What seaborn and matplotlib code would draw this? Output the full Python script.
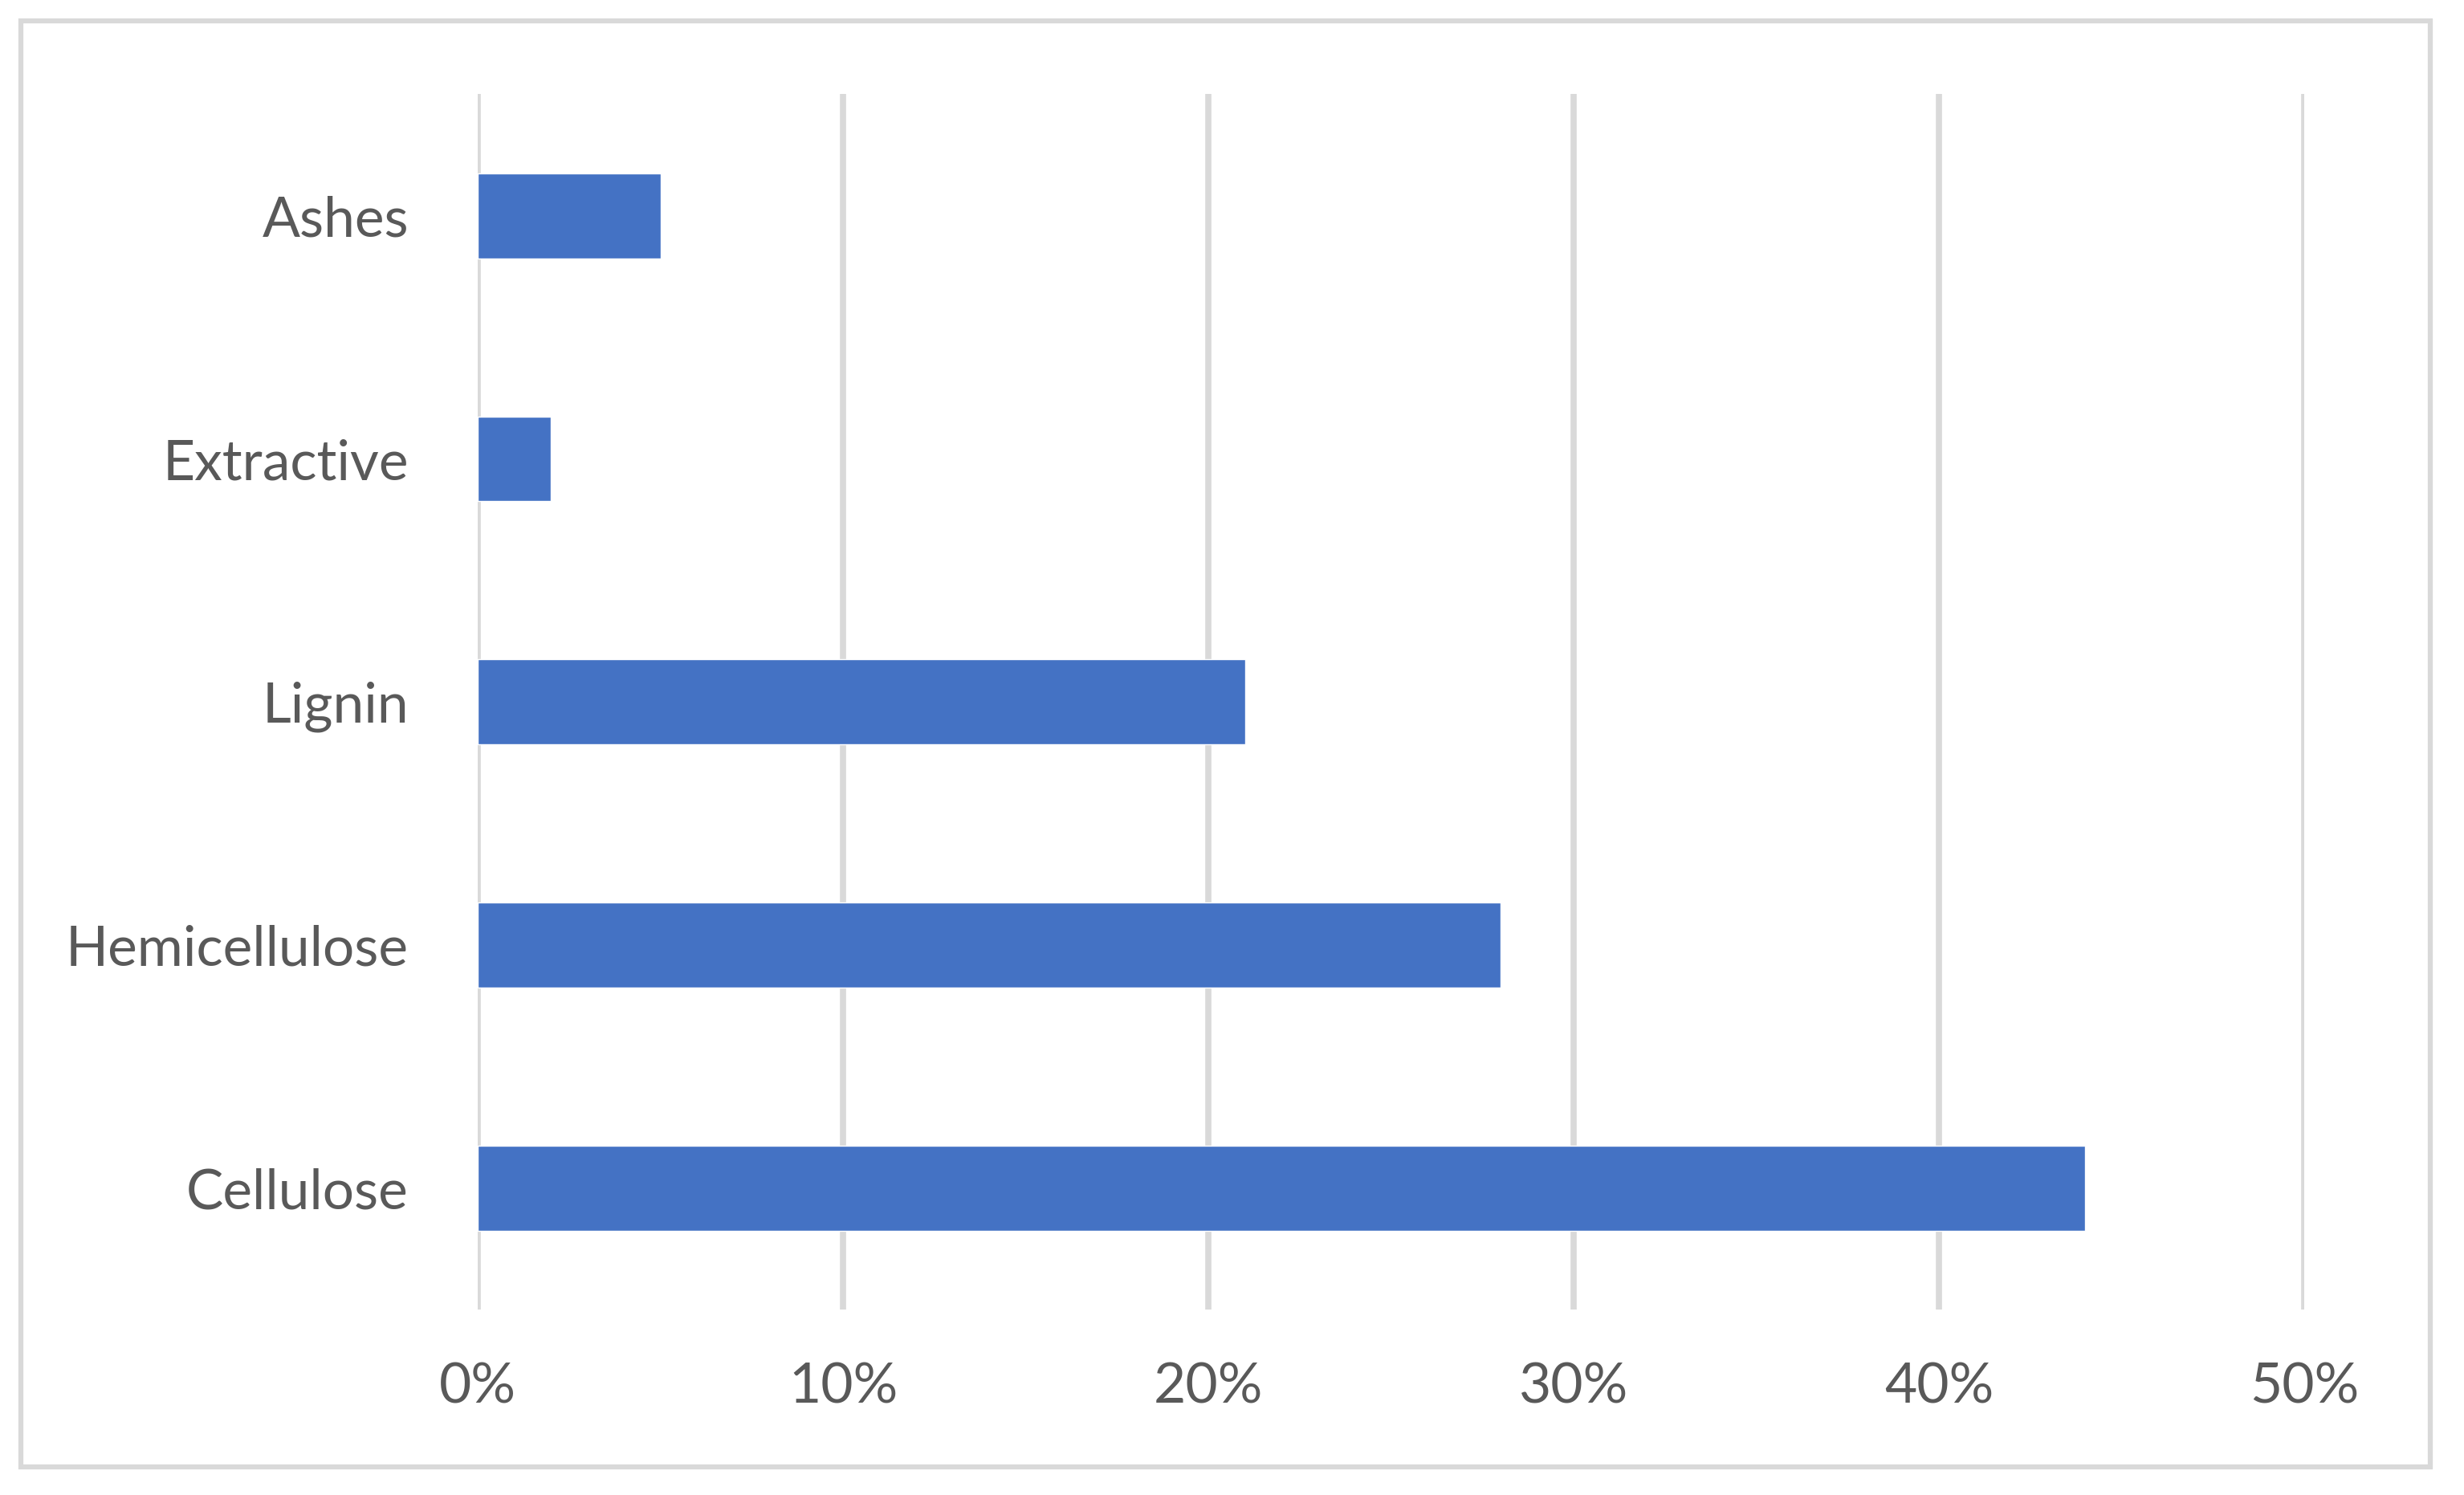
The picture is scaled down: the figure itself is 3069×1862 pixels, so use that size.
import matplotlib
matplotlib.use("Agg")
import matplotlib.pyplot as plt
import seaborn as sns
from matplotlib.patches import Rectangle
from matplotlib.ticker import PercentFormatter

# composition data
components = ["Ashes", "Extractive", "Lignin", "Hemicellulose", "Cellulose"]
shares = [0.05, 0.02, 0.21, 0.28, 0.44]
xticks = [0, 0.1, 0.2, 0.3, 0.4, 0.5]

sns.set_style("white")
plt.rcParams["font.family"] = ["Lato", "DejaVu Sans"]

fig = plt.figure(figsize=(30.69, 18.62), dpi=100)
ax = fig.add_axes([0.1939, 0.1241, 0.7413, 0.8128])

sns.barplot(x=shares, y=components, orient="h", color="#4472C4",
            saturation=1, width=0.35, ax=ax, zorder=3)

ax.set_xlim(0, 0.5)
ax.set_ylim(4.5, -0.5)
ax.set_xticks(xticks)
ax.xaxis.set_major_formatter(PercentFormatter(1.0, decimals=0))
ax.grid(axis="x", color="#D9D9D9", linewidth=5.5, zorder=0)
ax.grid(axis="y", visible=False)
for s in ax.spines.values():
    s.set_visible(False)
ax.tick_params(axis="both", length=0, labelsize=50, labelcolor="#595959")
ax.tick_params(axis="y", pad=62)
ax.tick_params(axis="x", pad=47)
ax.set_xlabel("")
ax.set_ylabel("")

# light grey chart frame
fig.patches.append(Rectangle((26 / 3069, 1 - 1827 / 1862), 3001 / 3069, 1801 / 1862,
                             transform=fig.transFigure, fill=False,
                             edgecolor="#D9D9D9", linewidth=4.5))

fig.savefig("out.png", dpi=100, facecolor="white")
